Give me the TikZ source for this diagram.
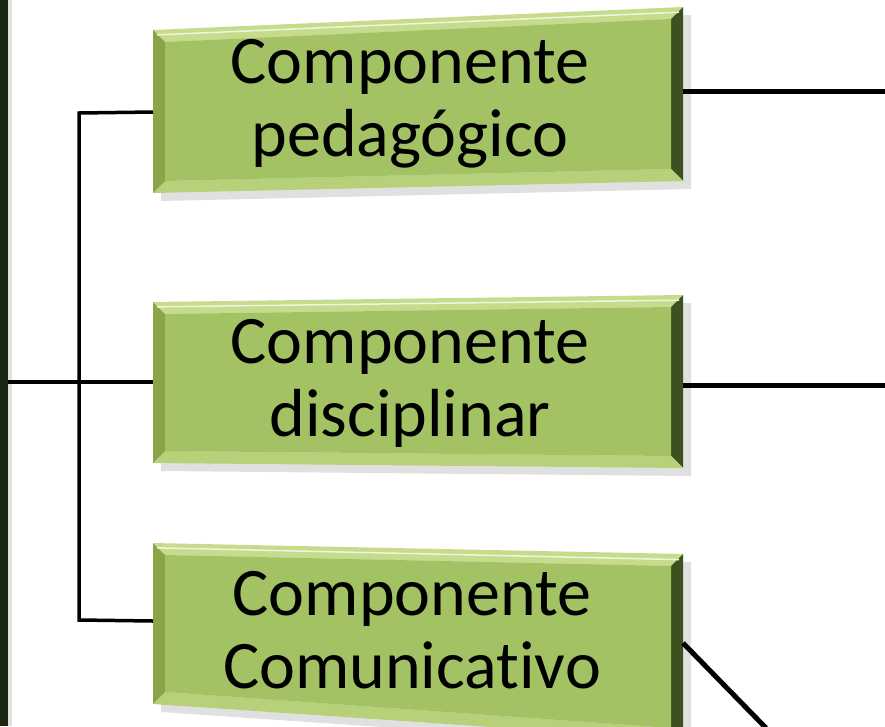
\documentclass[tikz,border=0pt]{standalone}
\usepackage{fontspec}
\setmainfont{Carlito}[Ligatures=NoCommon]
\definecolor{bartop}{HTML}{C6DC8C}
\definecolor{barleft}{HTML}{8AA548}
\definecolor{barright}{HTML}{3F5020}
\definecolor{barbot}{HTML}{B7D17A}
\definecolor{facegreen}{HTML}{A3C264}
\definecolor{darkbar}{HTML}{1C2614}
\tikzset{
  conn/.style={line width=3.5pt, black},
  connthick/.style={line width=5pt, black},
  lbl/.style={font=\fontsize{68}{73}\selectfont, align=center, inner sep=0pt, text=black},
}
% #1 name, #2..#5 corners tl,tr,br,bl
\newcommand{\bevelbox}[5]{%
  \coordinate (#1A) at #2; \coordinate (#1B) at #3;
  \coordinate (#1C) at #4; \coordinate (#1D) at #5;
  \coordinate (#1a) at ($(#1A)+(12,12)$); \coordinate (#1b) at ($(#1B)+(-12,12)$);
  \coordinate (#1c) at ($(#1C)+(-12,-12)$); \coordinate (#1d) at ($(#1D)+(12,-12)$);
  \fill[black!12] ($(#1A)+(8,8)$) -- ($(#1B)+(8,8)$) -- ($(#1C)+(8,8)$) -- ($(#1D)+(8,8)$) -- cycle;
  \fill[bartop] (#1A) -- (#1B) -- (#1b) -- (#1a) -- cycle;
  \fill[barright] (#1B) -- (#1C) -- (#1c) -- (#1b) -- cycle;
  \fill[barbot] (#1D) -- (#1C) -- (#1c) -- (#1d) -- cycle;
  \fill[barleft] (#1A) -- (#1D) -- (#1d) -- (#1a) -- cycle;
  \fill[facegreen] (#1a) -- (#1b) -- (#1c) -- (#1d) -- cycle;
  \draw[white!70!bartop, line width=1.5pt] ($(#1A)!0.03!(#1D)+(4,0)$) -- ($(#1B)!0.03!(#1C)+(-4,0)$);
}
\usetikzlibrary{calc}
\begin{document}
\begin{tikzpicture}[x=1pt,y=-1pt]
\useasboundingbox (0,0) rectangle (885,726);
\fill[white] (0,0) rectangle (885,726);
% left dark bar
\fill[black!12] (7,0) rectangle (12,726);
\fill[darkbar] (0,0) rectangle (8,726);

\bevelbox{p}{(153,30)}{(683,7)}{(683,181)}{(153,193)}
\bevelbox{d}{(153,302)}{(683,295)}{(683,468)}{(153,463)}
\bevelbox{c}{(153,543)}{(683,554)}{(683,740)}{(153,704)}

\node[lbl] (ped) at (410,104) {Componente\\pedagógico};
\node[lbl] (dis) at (410,383) {Componente\\disciplinar};
\node[lbl] (com) at (412,630) {Componente\\Comunicativo};

% connection points
\coordinate (root) at (8,382);
\coordinate (j) at (79,382);
\coordinate (jtop) at (79,113);
\coordinate (jbot) at (79,620);
\coordinate (pw) at (153,112);
\coordinate (dw) at (153,382);
\coordinate (cw) at (153,621);
\coordinate (pe) at (683,91);
\coordinate (de) at (683,385);
\coordinate (ce) at (683,643);
\coordinate (pout) at (885,91);
\coordinate (dout) at (885,385);
\coordinate (cout) at (766,728);

\draw[conn] (root) -- (dw);
\draw[conn] (pw) -- (jtop) -- (jbot) -- (cw);
\draw[connthick] (pe) -- (pout);
\draw[connthick] (de) -- (dout);
\draw[connthick] (ce) -- (cout);
\end{tikzpicture}
\end{document}
